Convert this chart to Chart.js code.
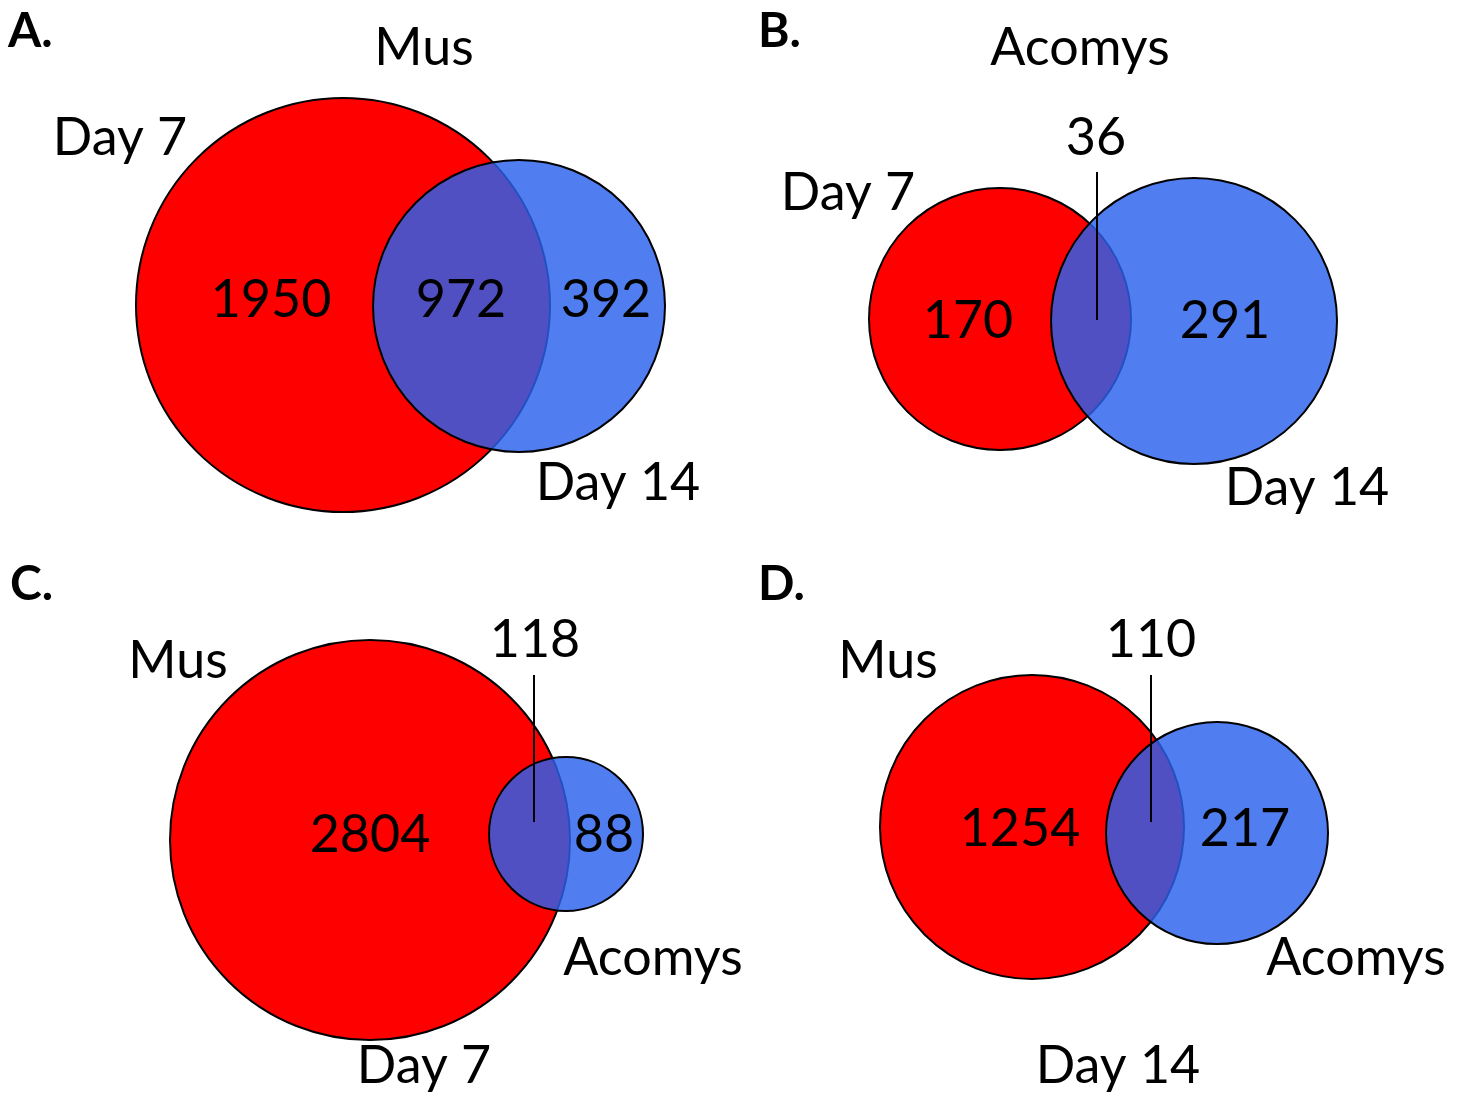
<!DOCTYPE html>
<html>
<head>
<meta charset="utf-8">
<script src="https://cdn.jsdelivr.net/npm/chart.js@4.4.1/dist/chart.umd.min.js"></script>
<style>
  html, body { margin: 0; padding: 0; background: #fff; }
  canvas { display: block; }
</style>
</head>
<body>
<canvas id="venn" width="1465" height="1093"></canvas>
<script>
// values
const panelLetters = ["A.", "B.", "C.", "D."];
const panelTitles = ["Mus", "Acomys", "", ""];
const leftNames = ["Day 7", "Day 7", "Mus", "Mus"];
const rightNames = ["Day 14", "Day 14", "Acomys", "Acomys"];
const bottomNames = ["", "", "Day 7", "Day 14"];
const onlyLeft = [1950, 170, 2804, 1254];
const shared = [972, 36, 118, 110];
const onlyRight = [392, 291, 88, 217];

// layout, in the chart's own units (one unit = one px of the figure)
const layout = [
  { red: [343, 305, 207], blue: [519, 306, 146], letter: [8, 47], title: [424, 65],
    left: [120, 155], right: [618, 500], bottom: null,
    nLeft: [271, 317], nShared: [461, 317], nRight: [606, 317], lead: null },
  { red: [1000, 319, 131], blue: [1194, 321, 143], letter: [758, 47], title: [1080, 65],
    left: [848, 210], right: [1307, 505], bottom: null,
    nLeft: [968, 338], nShared: [1096, 155], nRight: [1225, 338], lead: [1097, 172, 320] },
  { red: [370, 840, 200], blue: [566, 834, 77], letter: [10, 600], title: null,
    left: [178, 678], right: [653, 975], bottom: [424, 1083],
    nLeft: [370, 852], nShared: [535, 657], nRight: [604, 852], lead: [534, 675, 822] },
  { red: [1032, 827, 152], blue: [1217, 833, 111], letter: [758, 600], title: null,
    left: [888, 678], right: [1356, 975], bottom: [1118, 1083],
    nLeft: [1020, 846], nShared: [1151, 657], nRight: [1245, 846], lead: [1151, 675, 822] }
];

function toPx(chart, r) {
  const x = chart.scales.x;
  return Math.abs(x.getPixelForValue(r) - x.getPixelForValue(0));
}

const redPoints = layout.map(function (p, i) {
  return { x: p.red[0], y: p.red[1], r: p.red[2], n: onlyLeft[i] + shared[i] };
});
const bluePoints = layout.map(function (p, i) {
  return { x: p.blue[0], y: p.blue[1], r: p.blue[2], n: onlyRight[i] + shared[i] };
});

const leadDatasets = [];
layout.forEach(function (p) {
  if (!p.lead) return;
  leadDatasets.push({
    type: "scatter",
    data: [{ x: p.lead[0], y: p.lead[1] }, { x: p.lead[0], y: p.lead[2] }],
    showLine: true,
    borderColor: "#000",
    borderWidth: 2,
    pointRadius: 0,
    clip: false,
    order: 0
  });
});

const labelPlugin = {
  id: "vennLabels",
  afterDatasetsDraw: function (chart) {
    const c = chart.ctx;
    const sx = chart.scales.x, sy = chart.scales.y;
    function put(txt, pos, align, font) {
      if (!pos || txt === "") return;
      c.font = font;
      c.textAlign = align;
      c.textBaseline = "alphabetic";
      c.fillStyle = "#000";
      c.fillText(txt, sx.getPixelForValue(pos[0]), sy.getPixelForValue(pos[1]));
    }
    const f = "52px Lato, 'Open Sans', sans-serif";
    const fb = "bold 48px Lato, 'Open Sans', sans-serif";
    c.save();
    layout.forEach(function (p, i) {
      put(panelLetters[i], p.letter, "left", fb);
      put(panelTitles[i], p.title, "center", f);
      put(leftNames[i], p.left, "center", f);
      put(rightNames[i], p.right, "center", f);
      put(bottomNames[i], p.bottom, "center", f);
      put(String(onlyLeft[i]), p.nLeft, "center", f);
      put(String(shared[i]), p.nShared, "center", f);
      put(String(onlyRight[i]), p.nRight, "center", f);
    });
    c.restore();
  }
};

new Chart(document.getElementById("venn"), {
  type: "bubble",
  data: {
    datasets: leadDatasets.concat([
      {
        label: "right set",
        data: bluePoints,
        backgroundColor: "rgba(42, 97, 237, 0.82)",
        borderColor: "#000",
        borderWidth: 2,
        radius: function (ctx) { return toPx(ctx.chart, ctx.raw.r); },
        clip: false,
        order: 1
      },
      {
        label: "left set",
        data: redPoints,
        backgroundColor: "#ff0000",
        borderColor: "#000",
        borderWidth: 2,
        radius: function (ctx) { return toPx(ctx.chart, ctx.raw.r); },
        clip: false,
        order: 2
      }
    ])
  },
  options: {
    responsive: false,
    animation: false,
    layout: { padding: 0, autoPadding: false },
    scales: {
      x: { type: "linear", min: 0, max: 1465, display: false },
      y: { type: "linear", min: 0, max: 1093, reverse: true, display: false }
    },
    plugins: {
      legend: { display: false },
      tooltip: { enabled: false }
    },
    elements: { point: { hoverRadius: 0 } }
  },
  plugins: [labelPlugin]
});
</script>
</body>
</html>
